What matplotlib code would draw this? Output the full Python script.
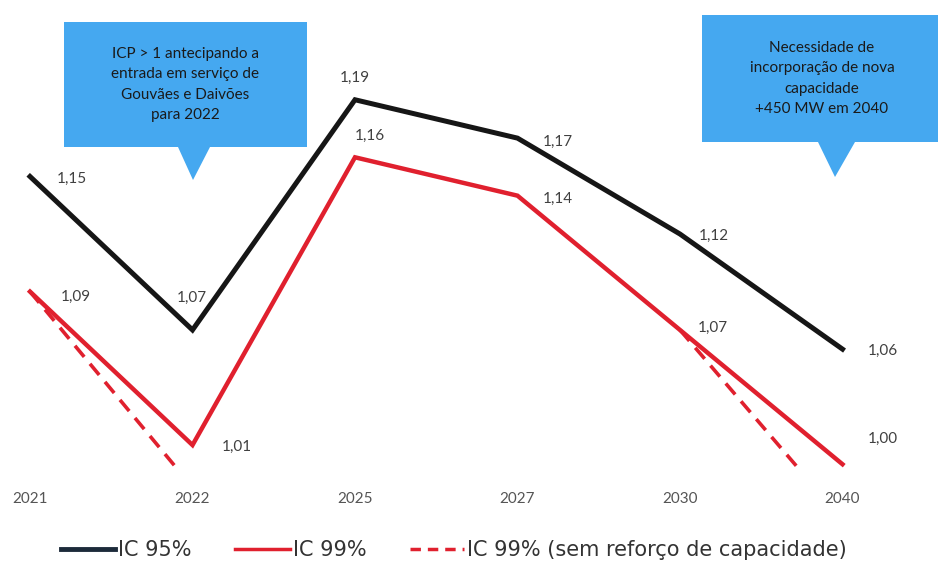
import matplotlib
matplotlib.use("Agg")
import matplotlib.pyplot as plt
import numpy as np
from matplotlib.patches import Polygon
from matplotlib.lines import Line2D

plt.rcParams['font.family'] = ['Lato', 'DejaVu Sans']

years = ["2021", "2022", "2025", "2027", "2030", "2040"]
ic95 = [1.15, 1.07, 1.19, 1.17, 1.12, 1.06]
ic99 = [1.09, 1.01, 1.16, 1.14, 1.07, 1.00]
ic99_sem = [1.09, 0.988, np.nan, np.nan, 1.07, 0.971]
ic95_labels = ["1,15", "1,07", "1,19", "1,17", "1,12", "1,06"]
ic99_labels = ["1,09", "1,01", "1,16", "1,14", "1,07", "1,00"]
legend_labels = ["IC 95%", "IC 99%", "IC 99% (sem reforço de capacidade)"]
callout1 = "ICP > 1 antecipando a\nentrada em serviço de\nGouvães e Daivões\npara 2022"
callout2 = "Necessidade de\nincorporação de nova\ncapacidade\n+450 MW em 2040"

W, H = 938, 563
fig = plt.figure(figsize=(W / 100, H / 100), dpi=100)
bottom_px = 470
ax = fig.add_axes([0, (H - bottom_px) / H, 1, bottom_px / H])
x = np.arange(len(years))
ax.set_xlim(-30 / 162.5, (W - 30) / 162.5)
ax.set_ylim(0.997, 1.242)

black = "#161616"
red = "#e0202e"
ax.plot(x, ic99_sem, color=red, lw=2.6, ls=(0, (4, 2.5)), zorder=2)
ax.plot(x, ic99, color=red, lw=3.2, zorder=3, solid_joinstyle='miter')
ax.plot(x, ic95, color=black, lw=3.6, zorder=4, solid_joinstyle='miter')

off95 = [(42, -2), (-1, 32), (0, 22), (40, -4), (34, -2), (40, -2)]
off99 = [(46, -5), (44, -2), (15, 21), (40, -3), (33, 2), (40, 25)]
lab_color = "#404040"
for i in range(len(years)):
    ax.annotate(ic95_labels[i], (x[i], ic95[i]), xytext=off95[i], textcoords='offset pixels',
                ha='center', va='center', fontsize=11, color=lab_color, zorder=6)
    ax.annotate(ic99_labels[i], (x[i], ic99[i]), xytext=off99[i], textcoords='offset pixels',
                ha='center', va='center', fontsize=11, color=lab_color, zorder=6)

ax.set_xticks(x)
ax.set_xticklabels(years, fontsize=11, color="#555555")
ax.tick_params(axis='x', length=0, pad=16)
ax.set_yticks([])
for s in ax.spines.values():
    s.set_visible(False)
ax.patch.set_alpha(0)

# callouts (pixel coords from top-left)
blue = "#45a8f0"
def callout(x0, y0, x1, y1, b0, b1, tipx, tipy, text, cx):
    pts = [(x0, y0), (x1, y0), (x1, y1), (b1, y1), (tipx, tipy), (b0, y1), (x0, y1)]
    pts = [(px / W, 1 - py / H) for px, py in pts]
    fig.patches.append(Polygon(pts, closed=True, transform=fig.transFigure,
                               facecolor=blue, edgecolor='none', zorder=10))
    fig.text(cx / W, 1 - ((y0 + y1) / 2) / H, text, ha='center', va='center',
             fontsize=11, color="#1a1a1a", linespacing=1.55, zorder=11)

callout(64, 22, 307, 147, 178, 210, 193, 180, callout1, 185)
callout(702, 15, 938, 142, 818, 855, 835, 177, callout2, 822)

# legend
handles = [Line2D([], [], color="#1c2a3a", lw=3.5),
           Line2D([], [], color=red, lw=2.5),
           Line2D([], [], color=red, lw=2.5, ls=(0, (3, 2)))]
fig.legend(handles, legend_labels, loc='center', bbox_to_anchor=(454 / W, 1 - 550 / H),
           ncol=3, frameon=False, prop={'family': 'DejaVu Sans', 'size': 15},
           handlelength=2.6, columnspacing=2.1, handletextpad=0.15, labelcolor="#333333")

fig.savefig("out.png", dpi=100)
